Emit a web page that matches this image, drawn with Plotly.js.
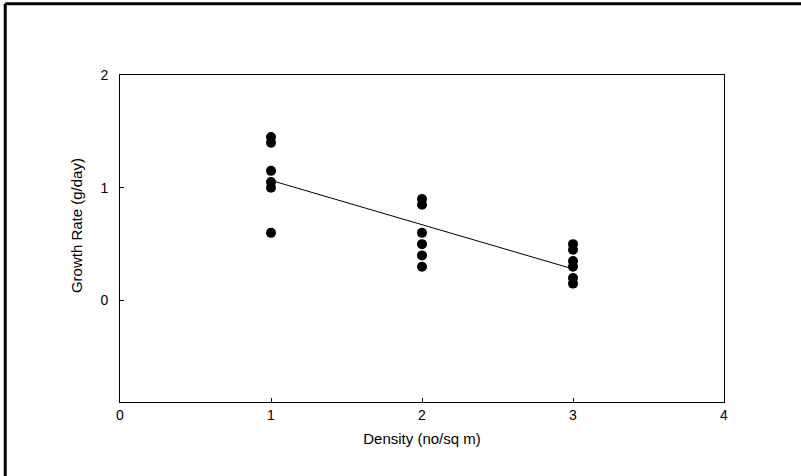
<!DOCTYPE html>
<html>
<head>
<meta charset="utf-8">
<script src="https://cdn.plot.ly/plotly-3.0.1.min.js"></script>
<style>
  html, body { margin: 0; padding: 0; background: #fff; }
  #chart { width: 801px; height: 476px; }
</style>
</head>
<body>
<div id="chart"></div>
<script>
// Data
const densityX = [1, 1, 1, 1, 1, 1, 2, 2, 2, 2, 2, 2, 3, 3, 3, 3, 3, 3];
const growthY = [1.45, 1.40, 1.15, 1.05, 1.00, 0.60,
                 0.90, 0.85, 0.60, 0.50, 0.40, 0.30,
                 0.50, 0.45, 0.35, 0.30, 0.20, 0.15];
const fitX = [1, 3];
const fitY = [1.065, 0.28];
const xTicks = [0, 1, 2, 3, 4];
const yTicks = [0, 1, 2];
const xTitle = "Density (no/sq m)";
const yTitle = "Growth Rate (g/day)";

const font = "Liberation Sans, Arial, sans-serif";

const traces = [
  {
    x: densityX, y: growthY, type: "scatter", mode: "markers",
    marker: { color: "#000", size: 10, symbol: "circle" },
    hoverinfo: "x+y", showlegend: false
  },
  {
    x: fitX, y: fitY, type: "scatter", mode: "lines",
    line: { color: "#000", width: 1 },
    showlegend: false
  }
];

const layout = {
  width: 801, height: 476,
  margin: { l: 120, r: 77, t: 75, b: 74 },
  paper_bgcolor: "#fff", plot_bgcolor: "#fff",
  font: { family: font, color: "#000", size: 13 },
  xaxis: {
    range: [0, 4], tickvals: xTicks, ticktext: xTicks.map(String),
    showgrid: false, zeroline: false,
    showline: true, linecolor: "#000", linewidth: 1, mirror: true,
    ticks: "inside", ticklen: 4, tickcolor: "#000",
    tickfont: { family: font, size: 14 },
    title: { text: xTitle, font: { family: font, size: 15 }, standoff: 11 }
  },
  yaxis: {
    range: [-0.9, 2], tickvals: yTicks, ticktext: yTicks.map(String),
    showgrid: false, zeroline: false,
    showline: true, linecolor: "#000", linewidth: 1, mirror: true,
    ticks: "inside", ticklen: 4, tickcolor: "#000",
    ticklabelstandoff: 8,
    tickfont: { family: font, size: 14 }
  },
  annotations: [
    { text: yTitle, xref: "paper", yref: "paper",
      x: -0.0728, y: 0.538, xanchor: "center", yanchor: "middle",
      textangle: -90, showarrow: false,
      font: { family: font, size: 15, color: "#000" } }
  ],
  shapes: [
    { type: "line", xref: "paper", yref: "paper",
      x0: -0.1900, x1: 1.2, y0: 1.2177, y1: 1.2177,
      line: { color: "#000", width: 3 } },
    { type: "line", xref: "paper", yref: "paper",
      x0: -0.1900, x1: -0.1900, y0: 1.2177, y1: -0.3,
      line: { color: "#000", width: 3 } }
  ]
};

Plotly.newPlot("chart", traces, layout, { displayModeBar: false, staticPlot: true });
</script>
</body>
</html>
